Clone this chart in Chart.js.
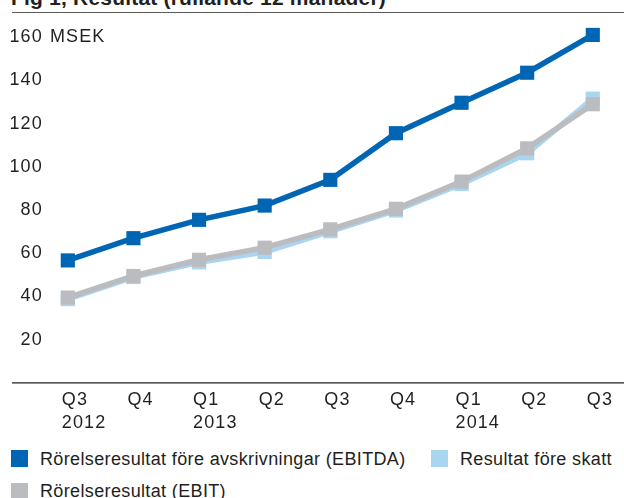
<!DOCTYPE html>
<html>
<head>
<meta charset="utf-8">
<script src="https://cdn.jsdelivr.net/npm/chart.js@4/dist/chart.umd.min.js"></script>
<style>
  html, body { margin: 0; padding: 0; background: #fff; }
  body { width: 624px; height: 498px; position: relative; overflow: hidden; font-family: "Liberation Sans", Arial, sans-serif; color: #231f20; }
  #title { position: absolute; left: 11px; top: -14.3px; font-size: 21px; font-weight: bold; line-height: 24px; letter-spacing: 0.2px; white-space: nowrap; }
  #rule { position: absolute; left: 12px; right: 0; top: 12px; height: 0; border-top: 1.5px solid #5a5a5a; }
  #wrap { position: absolute; left: 0; top: 0; width: 624px; height: 445px; }
  .item { position: absolute; font-size: 18px; line-height: 20px; letter-spacing: 0.36px; white-space: nowrap; }
  .item i { position: absolute; width: 17px; height: 17px; left: 0; top: 1.5px; }
  .item span { position: absolute; top: 0; }
</style>
</head>
<body>
<div id="title">Fig 1, Resultat (rullande 12 månader)</div>
<div id="rule"></div>
<div id="wrap"><canvas id="chart"></canvas></div>
<div id="legend"></div>
<script>
// Resultat, rullande 12 månader (MSEK)
const quarters = ['Q3', 'Q4', 'Q1', 'Q2', 'Q3', 'Q4', 'Q1', 'Q2', 'Q3'];
const years = ['2012', '', '2013', '', '', '', '2014', '', ''];
const ebitda = [56.7, 67.0, 75.5, 82.1, 94.0, 115.6, 129.7, 143.6, 161.1];
const ebit = [39.5, 49.5, 57.0, 62.6, 71.1, 80.6, 93.2, 108.6, 129.0];
const preTax = [38.8, 49.0, 55.8, 60.6, 70.2, 79.8, 92.1, 106.3, 131.6];
const yTicks = [20, 40, 60, 80, 100, 120, 140, 160];
const unit = 'MSEK';

const names = ['Rörelseresultat före avskrivningar (EBITDA)', 'Resultat före skatt', 'Rörelseresultat (EBIT)'];
const colors = ['#0066b3', '#a9d5f0', '#bbbcc0'];

const labels = quarters.map((q, i) => years[i] ? [q, years[i]] : q);
const font = { family: '"Liberation Sans", Arial, sans-serif', size: 18, lineHeight: 1.3 };

function series(data, color) {
    return {
        data: data,
        borderColor: color,
        backgroundColor: color,
        borderWidth: 5.5,
        pointStyle: 'rect',
        pointRadius: 10,
        pointBorderWidth: 0,
        pointHoverRadius: 10,
        tension: 0,
        clip: false
    };
}

// wider text like the original typeface, axis line across the whole width, unit label
const extras = {
    id: 'extras',
    beforeUpdate(chart) {
        chart.ctx.letterSpacing = '1.1px';
    },
    beforeDraw(chart) {
        chart.ctx.letterSpacing = '1.1px';
    },
    beforeDatasetsDraw(chart) {
        const ctx = chart.ctx;
        const y = chart.scales.y;
        const y0 = y.getPixelForValue(0);
        ctx.save();
        ctx.strokeStyle = '#231f20';
        ctx.lineWidth = 1.3;
        ctx.beginPath();
        ctx.moveTo(12, y0);
        ctx.lineTo(chart.width, y0);
        ctx.stroke();
        ctx.fillStyle = '#231f20';
        ctx.font = '18px "Liberation Sans", Arial, sans-serif';
        ctx.textBaseline = 'middle';
        ctx.fillText(unit, 50, y.getPixelForValue(yTicks[yTicks.length - 1]));
        ctx.restore();
    }
};

new Chart(document.getElementById('chart'), {
    type: 'line',
    data: {
        labels: labels,
        datasets: [
            series(ebitda, colors[0]),
            series(ebit, colors[2]),
            series(preTax, colors[1])
        ]
    },
    options: {
        responsive: true,
        maintainAspectRatio: false,
        animation: false,
        events: [],
        layout: { padding: { top: 37.3, right: 22.3, left: 0, bottom: 0 } },
        plugins: { legend: { display: false }, tooltip: { enabled: false } },
        scales: {
            x: {
                offset: false,
                grid: { display: false, drawTicks: false },
                border: { display: false },
                ticks: { color: '#231f20', font: font, align: 'start', labelOffset: -6, padding: 5, maxRotation: 0, autoSkip: false },
                afterFit(s) { s.height = 62.1; }
            },
            y: {
                min: 0,
                max: 160,
                grid: { display: false, drawTicks: false },
                border: { display: false },
                ticks: {
                    stepSize: 20,
                    color: '#231f20',
                    font: font,
                    padding: 25,
                    callback: v => yTicks.includes(v) ? String(v) : ''
                },
                afterFit(s) { s.width = 67.8; }
            }
        }
    },
    plugins: [extras]
});

// legend
const legend = document.getElementById('legend');
const spots = [[11, 448.5], [431, 448.5], [11, 481]];
names.forEach((n, i) => {
    const d = document.createElement('div');
    d.className = 'item';
    d.style.left = spots[i][0] + 'px';
    d.style.top = spots[i][1] + 'px';
    d.innerHTML = '<i style="background:' + colors[i] + '"></i><span style="left:29px">' + n + '</span>';
    legend.appendChild(d);
});
</script>
</body>
</html>
